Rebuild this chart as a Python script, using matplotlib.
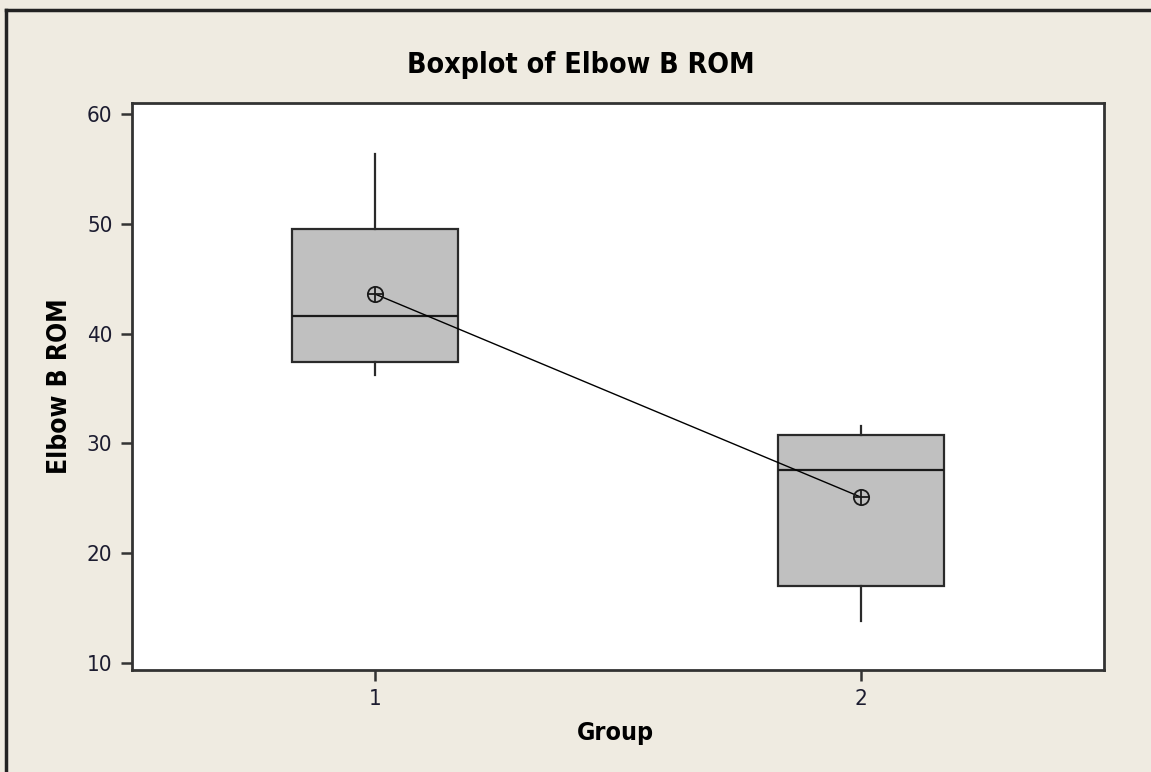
import matplotlib
matplotlib.use("Agg")
import matplotlib.pyplot as plt
from matplotlib.lines import Line2D
from matplotlib import font_manager

groups = ["1", "2"]
positions = [1, 2]
q1 = [37.4, 17.0]
median = [41.6, 27.6]
q3 = [49.5, 30.8]
whisker_low = [36.2, 13.8]
whisker_high = [56.4, 31.6]
means = [43.6, 25.1]
yticks = [10, 20, 30, 40, 50, 60]

names = sorted({f.name + " | " + str(f.stretch) for f in font_manager.fontManager.ttflist if "DejaVu" in f.name})
print(names)

W, H = 1151, 772
bg = "#EFEBE1"
FONT = dict(family="DejaVu Sans", stretch="condensed")
fig = plt.figure(figsize=(W/100, H/100), dpi=100, facecolor=bg)
ax = fig.add_axes([132/W, 1-670/H, (1104-132)/W, (670-103)/H])
ax.set_facecolor("white")

stats = []
for i in range(len(groups)):
    stats.append(dict(q1=q1[i], med=median[i], q3=q3[i], whislo=whisker_low[i],
                      whishi=whisker_high[i], mean=means[i], fliers=[], label=groups[i]))

ax.bxp(stats, positions=positions, widths=0.34, patch_artist=True, showcaps=False,
       showmeans=False,
       boxprops=dict(facecolor="#C0C0C0", edgecolor="#2a2a2a", linewidth=1.6),
       medianprops=dict(color="#1a1a1a", linewidth=1.6),
       whiskerprops=dict(color="#2a2a2a", linewidth=1.6))

ax.plot(positions, means, color="black", linewidth=1.0, zorder=4)
ax.plot(positions, means, linestyle="none", marker="o", markersize=11,
        markerfacecolor="none", markeredgecolor="#1a1a1a", markeredgewidth=1.3, zorder=5)
ax.plot(positions, means, linestyle="none", marker="+", markersize=12,
        markeredgecolor="#1a1a1a", markeredgewidth=1.3, zorder=5)

ax.set_xlim(0.5, 2.5)
ax.set_ylim(9.36, 61.0)
ax.set_xticks(positions)
ax.set_xticklabels(groups)
ax.set_yticks(yticks)
for s in ["top", "right", "left", "bottom"]:
    ax.spines[s].set_linewidth(2.0)
    ax.spines[s].set_color("#333333")
ax.tick_params(axis="both", direction="out", length=8, width=1.8, color="#333333",
               labelsize=16, labelcolor="#1c1c30", top=False, right=False)
ax.tick_params(axis="y", pad=6)
ax.tick_params(axis="x", pad=6)
for lab in ax.get_xticklabels() + ax.get_yticklabels():
    lab.set_fontstretch("condensed")

fig.text(581/W, 1-73/H, "Boxplot of Elbow B ROM", ha="center", va="baseline",
         fontsize=20.5, fontweight="bold", **FONT)
fig.text(615/W, 1-740/H, "Group", ha="center", va="baseline",
         fontsize=18, fontweight="bold", **FONT)
fig.text(67/W, 1-386/H, "Elbow B ROM", ha="center", va="baseline", rotation=90,
         rotation_mode="anchor", fontsize=19, fontweight="bold", **FONT)

fig.add_artist(Line2D([6/W, 6/W], [0, 1-10/H], transform=fig.transFigure,
                      color="#222222", linewidth=2.5))
fig.add_artist(Line2D([6/W, 1], [1-10/H, 1-10/H], transform=fig.transFigure,
                      color="#222222", linewidth=2.5))

fig.savefig("out.png", dpi=100, facecolor=bg)
